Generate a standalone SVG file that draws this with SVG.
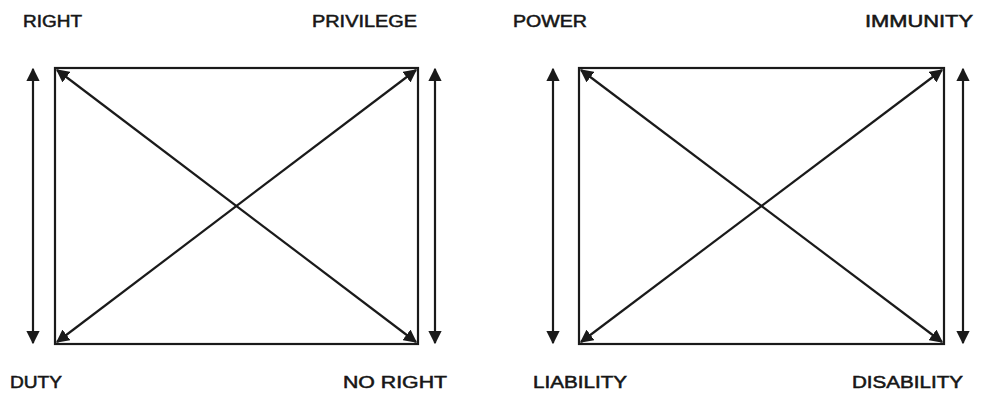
<svg xmlns="http://www.w3.org/2000/svg" width="982" height="396" viewBox="0 0 982 396">
<style>
.lbl{font-family:"Liberation Sans",Arial,sans-serif;font-size:16px;font-weight:normal;fill:#161616;stroke:#161616;stroke-width:0.5}
.edge{stroke:#1a1a1a;stroke-width:2.2;fill:none}
.arr{stroke:#1a1a1a;stroke-width:2.2;fill:none;marker-start:url(#ah);marker-end:url(#ah)}
</style>
<defs>
<marker id="ah" viewBox="0 0 10 10" refX="9" refY="5" markerWidth="6" markerHeight="6" markerUnits="strokeWidth" orient="auto-start-reverse">
<path d="M0,0 L10,5 L0,10 z" fill="#1a1a1a"/>
</marker>
</defs>
<rect width="982" height="396" fill="#fff"/>
<g id="box-left">
<rect class="edge" x="55" y="68" width="363" height="276"/>
</g>
<g id="box-right">
<rect class="edge" x="579" y="68" width="365" height="276"/>
</g>
<g id="right"><text class="lbl" x="23" y="27" textLength="59" lengthAdjust="spacingAndGlyphs">RIGHT</text></g>
<g id="privilege"><text class="lbl" x="312" y="27" textLength="105" lengthAdjust="spacingAndGlyphs">PRIVILEGE</text></g>
<g id="duty"><text class="lbl" x="10" y="388" textLength="52" lengthAdjust="spacingAndGlyphs">DUTY</text></g>
<g id="noright"><text class="lbl" x="343" y="388" textLength="104" lengthAdjust="spacingAndGlyphs">NO RIGHT</text></g>
<g id="power"><text class="lbl" x="513" y="27" textLength="74" lengthAdjust="spacingAndGlyphs">POWER</text></g>
<g id="immunity"><text class="lbl" x="865" y="27" textLength="108" lengthAdjust="spacingAndGlyphs">IMMUNITY</text></g>
<g id="liability"><text class="lbl" x="533" y="388" textLength="94" lengthAdjust="spacingAndGlyphs">LIABILITY</text></g>
<g id="disability"><text class="lbl" x="852" y="388" textLength="111" lengthAdjust="spacingAndGlyphs">DISABILITY</text></g>
<g id="connectors">
<line class="arr" x1="57" y1="70" x2="416" y2="342"/>
<line class="arr" x1="416" y1="70" x2="57" y2="342"/>
<line class="arr" x1="33" y1="69" x2="33" y2="343"/>
<line class="arr" x1="435" y1="69" x2="435" y2="343"/>
<line class="arr" x1="581" y1="70" x2="942" y2="342"/>
<line class="arr" x1="942" y1="70" x2="581" y2="342"/>
<line class="arr" x1="553" y1="69" x2="553" y2="343"/>
<line class="arr" x1="963" y1="69" x2="963" y2="343"/>
</g>
</svg>
